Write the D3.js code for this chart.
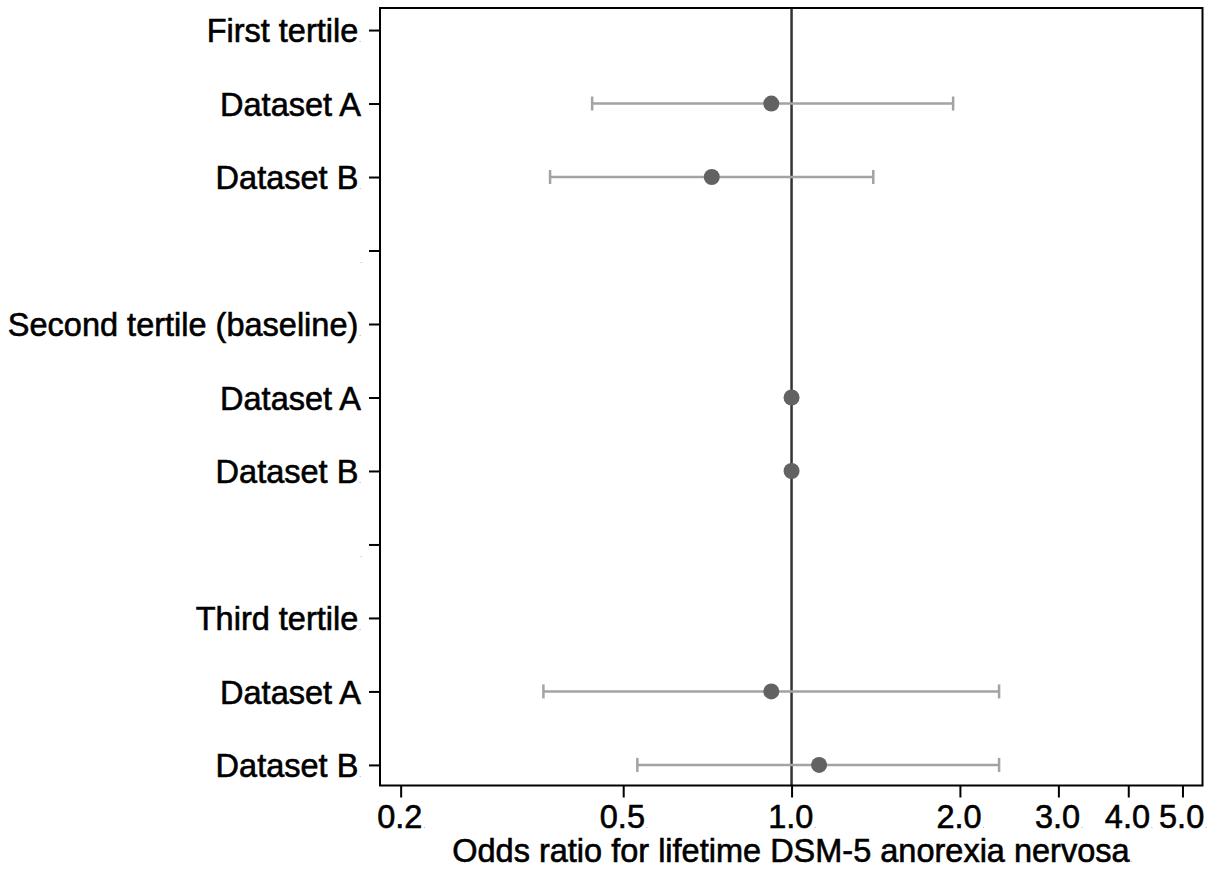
<!DOCTYPE html>
<html>
<head>
<meta charset="utf-8">
<script src="https://cdn.jsdelivr.net/npm/d3@7"></script>
<style>
  html, body { margin: 0; padding: 0; background: #fff; }
  svg { display: block; font-family: "Liberation Sans", Arial, sans-serif; }
  .lbl { stroke: #000; stroke-width: 0.6px; fill: #000; }
</style>
</head>
<body>
<svg id="chart" width="1224" height="869"></svg>
<script>
// ---- data ----
const rowLabels = ["First tertile", "Dataset A", "Dataset B", "",
  "Second tertile (baseline)", "Dataset A", "Dataset B", "",
  "Third tertile", "Dataset A", "Dataset B"];
const labelDots = [true, false, true, true, true, false, true, true, true, false, true];
const pointRows = [1, 2, 5, 6, 9, 10];
const oddsRatio = [0.92, 0.72, 1.0, 1.0, 0.92, 1.12];
const ciLower   = [0.44, 0.37, null, null, 0.36, 0.53];
const ciUpper   = [1.945, 1.40, null, null, 2.35, 2.35];
const xTicks = [0.2, 0.5, 1.0, 2.0, 3.0, 4.0, 5.0];
const xTickLabels = ["0.2", "0.5", "1.0", "2.0", "3.0", "4.0", "5.0"];
const xTitle = "Odds ratio for lifetime DSM-5 anorexia nervosa";
const refValue = 1.0;

(function() {
// ---- layout ----
const pLeft = 380, pRight = 1202.5, pTop = 8, pBottom = 785.5;
const fs = 32.5;
const svg = d3.select("#chart");

const x = d3.scaleLog().domain([0.1837, 5.43]).range([pLeft, pRight]);
const y = d3.scaleLinear().domain([-0.3, 10.28]).range([pTop, pBottom]);

// reference line
svg.append("line")
  .attr("x1", x(refValue)).attr("x2", x(refValue))
  .attr("y1", pTop).attr("y2", pBottom)
  .attr("stroke", "#333").attr("stroke-width", 2.5);

// CIs
const ciData = pointRows.map((r, i) => ({ r, lo: ciLower[i], hi: ciUpper[i], or: oddsRatio[i] }));
const ci = svg.append("g").selectAll("g").data(ciData.filter(d => d.lo != null)).join("g")
  .attr("stroke", "#a3a3a3").attr("stroke-width", 2.5);
ci.append("line").attr("x1", d => x(d.lo)).attr("x2", d => x(d.hi))
  .attr("y1", d => y(d.r)).attr("y2", d => y(d.r));
ci.append("line").attr("x1", d => x(d.lo)).attr("x2", d => x(d.lo))
  .attr("y1", d => y(d.r) - 7).attr("y2", d => y(d.r) + 7);
ci.append("line").attr("x1", d => x(d.hi)).attr("x2", d => x(d.hi))
  .attr("y1", d => y(d.r) - 7).attr("y2", d => y(d.r) + 7);

// points
svg.append("g").selectAll("circle").data(ciData).join("circle")
  .attr("cx", d => x(d.or)).attr("cy", d => y(d.r)).attr("r", 8)
  .attr("fill", "#626262");

// frame
svg.append("rect").attr("x", pLeft).attr("y", pTop)
  .attr("width", pRight - pLeft).attr("height", pBottom - pTop)
  .attr("fill", "none").attr("stroke", "#000").attr("stroke-width", 2);

// y axis
const yAxis = d3.axisLeft(y).tickValues(d3.range(rowLabels.length))
  .tickSize(11).tickPadding(8).tickFormat(i => rowLabels[i]);
const gy = svg.append("g").attr("transform", `translate(${pLeft},0)`).call(yAxis);
gy.select(".domain").remove();
gy.selectAll(".tick line").attr("stroke", "#000").attr("stroke-width", 2);
gy.selectAll(".tick text")
  .attr("class", "lbl")
  .attr("font-size", fs)
  .attr("font-family", "Liberation Sans, Arial, sans-serif")
  .attr("dy", "0.36em")
  .each(function(i) {
    if (labelDots[i]) {
      d3.select(this).append("tspan").attr("font-size", 6).attr("stroke-width", 0).attr("dx", 1).text(".");
    }
  });

// x axis
const xAxis = d3.axisBottom(x).tickValues(xTicks).tickSize(12).tickPadding(7)
  .tickFormat((d, i) => xTickLabels[i]);
const gx = svg.append("g").attr("transform", `translate(0,${pBottom})`).call(xAxis);
gx.select(".domain").remove();
gx.selectAll(".tick line").attr("stroke", "#000").attr("stroke-width", 2);
gx.selectAll(".tick text")
  .attr("class", "lbl")
  .attr("font-size", fs)
  .attr("font-family", "Liberation Sans, Arial, sans-serif")
  .each(function() {
    d3.select(this).append("tspan").attr("font-size", 6).attr("stroke-width", 0).attr("dx", 1).text(".");
  });

// x title
svg.append("text").attr("class", "lbl")
  .attr("x", (pLeft + pRight) / 2 + 1).attr("y", 862)
  .attr("text-anchor", "middle").attr("font-size", fs)
  .text(xTitle)
  .append("tspan").attr("font-size", 6).attr("stroke-width", 0).attr("dx", 1).text(".");
})();
</script>
</body>
</html>
